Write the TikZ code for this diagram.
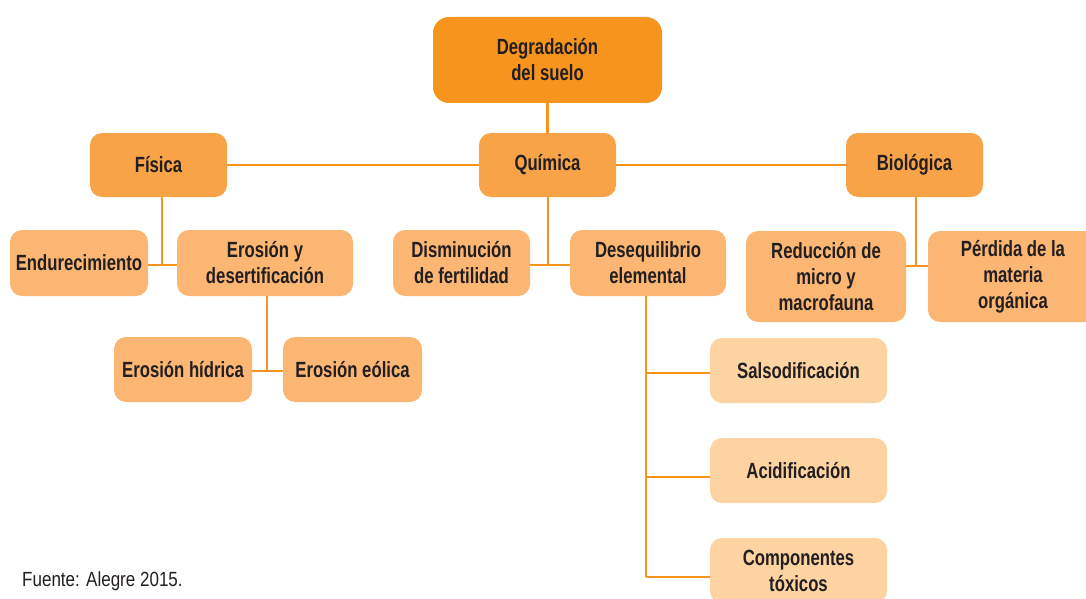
\documentclass[tikz,border=0pt]{standalone}
\usepackage{fontspec}
\newfontfamily\boxfont[FakeStretch=0.76]{Liberation Sans}
\newfontfamily\notefont[FakeStretch=0.83]{Liberation Sans}
\definecolor{cTop}{HTML}{F7941D}
\definecolor{cMid}{HTML}{F8A348}
\definecolor{cLow}{HTML}{FBB673}
\definecolor{cPale}{HTML}{FDD3A1}
\definecolor{cLine}{HTML}{F7941D}
\definecolor{cText}{HTML}{231F20}
\tikzset{
  box/.style={rounded corners=12pt, inner sep=0pt, align=center, text=cText,
    font=\boxfont\bfseries\fontsize{22}{26}\selectfont},
  topbox/.style={box, fill=cTop, rounded corners=16pt},
  midbox/.style={box, fill=cMid},
  lowbox/.style={box, fill=cLow},
  palebox/.style={box, fill=cPale},
  link/.style={draw=cLine, line width=2.5pt}
}
\begin{document}
\begin{tikzpicture}[x=1pt,y=-1pt]
\clip (0,0) rectangle (1086,599);
\useasboundingbox (0,0) rectangle (1086,599);
% boxes
\node[topbox, minimum width=229pt, minimum height=86pt] (top) at (547.5,60) {Degradación\\del suelo};
\node[midbox, minimum width=137pt, minimum height=64pt] (fis) at (158.5,165) {Física};
\node[midbox, minimum width=137pt, minimum height=64pt] (qui) at (547.5,165) {Química};
\node[midbox, minimum width=137pt, minimum height=64pt] (bio) at (914.5,165) {Biológica};
\node[lowbox, minimum width=138pt, minimum height=66pt] (end) at (79,263) {Endurecimiento};
\node[lowbox, minimum width=176pt, minimum height=66pt] (ero) at (265,263) {Erosión y\\desertificación};
\node[lowbox, minimum width=137pt, minimum height=66pt] (dis) at (461.5,263) {Disminución\\de fertilidad};
\node[lowbox, minimum width=156pt, minimum height=66pt] (des) at (648,263) {Desequilibrio\\elemental};
\node[lowbox, minimum width=160pt, minimum height=91pt] (red) at (826,276.5) {Reducción de\\micro y\\macrofauna};
\node[lowbox, minimum width=170pt, minimum height=91pt] (per) at (1013,276.5) {Pérdida de la\\materia\\orgánica};
\node[lowbox, minimum width=138pt, minimum height=65pt] (hid) at (183,369.5) {Erosión hídrica};
\node[lowbox, minimum width=139pt, minimum height=65pt] (eol) at (352.5,369.5) {Erosión eólica};
\node[palebox, minimum width=177pt, minimum height=65pt] (sal) at (798.5,370.5) {Salsodificación};
\node[palebox, minimum width=177pt, minimum height=65pt] (aci) at (798.5,470.5) {Acidificación};
\node[palebox, minimum width=177pt, minimum height=65pt] (com) at (798.5,570.5) {Componentes\\tóxicos};
% junctions
\coordinate (j1) at (162,265);
\coordinate (j2) at (267,371);
\coordinate (j3) at (548,265);
\coordinate (j4) at (916,266);
\coordinate (d1) at (646,373);
\coordinate (d2) at (646,477);
\coordinate (d3) at (646,577);
% connectors
\draw[link] (top.south) -- (qui.north);
\draw[link] (fis.east) -- (qui.west);
\draw[link] (qui.east) -- (bio.west);
\draw[link] (fis.south -| j1) -- (j1);
\draw[link] (end.east |- j1) -- (ero.west |- j1);
\draw[link] (ero.south -| j2) -- (j2);
\draw[link] (hid.east |- j2) -- (eol.west |- j2);
\draw[link] (qui.south -| j3) -- (j3);
\draw[link] (dis.east |- j3) -- (des.west |- j3);
\draw[link] (bio.south -| j4) -- (j4);
\draw[link] (red.east |- j4) -- (per.west |- j4);
\draw[link] (des.south -| d1) -- (d3);
\draw[link] (d1) -- (sal.west |- d1);
\draw[link] (d2) -- (aci.west |- d2);
\draw[link] (d3) -- (com.west |- d3);
% note
\node[anchor=base west, inner sep=0pt, text=cText, font=\notefont\fontsize{20.5}{24}\selectfont] (note) at (22,586) {Fuente: Alegre 2015.};
\end{tikzpicture}
\end{document}
